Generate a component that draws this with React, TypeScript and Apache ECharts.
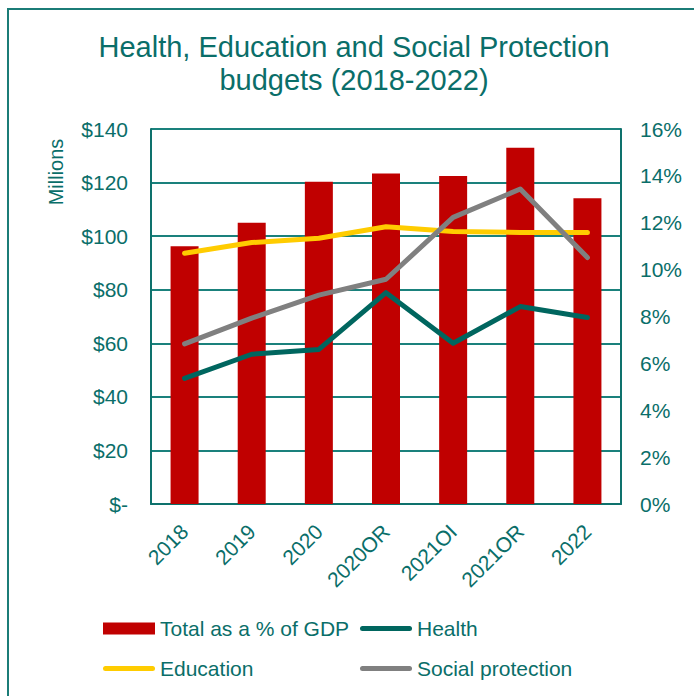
import React, { useEffect, useRef } from "react";
import * as echarts from "echarts";

const categories = ["2018", "2019", "2020", "2020OR", "2021OI", "2021OR", "2022"];
const totalPctGdp = [11.0, 12.0, 13.75, 14.1, 14.0, 15.2, 13.05];
const health = [46.9, 55.9, 57.7, 78.9, 60.0, 73.7, 69.6];
const education = [93.6, 97.6, 99.2, 103.5, 101.7, 101.4, 101.4];
const socialProtection = [59.8, 69.4, 78.0, 83.9, 107.0, 117.6, 92.0];
const titleLines = ["Health, Education and Social Protection", "budgets (2018-2022)"];

const TEAL = "#0A6E69";
const FONT = "'Liberation Sans', Arial, sans-serif";
const STADIUM = "path://M2.5,0 H49.5 A2.5,2.5 0 0 1 49.5,5 H2.5 A2.5,2.5 0 0 1 2.5,0 Z";

const legendBase = {
  orient: "horizontal",
  padding: 0,
  itemWidth: 52,
  textStyle: { color: TEAL, fontSize: 21, fontFamily: FONT, lineHeight: 20 },
};

export default function App() {
  const ref = useRef<HTMLDivElement>(null);
  useEffect(() => {
    document.body.style.margin = "0";
    const chart = echarts.init(ref.current!, null, { renderer: "svg" });
    chart.setOption({
      animation: false,
      backgroundColor: "#ffffff",
      textStyle: { fontFamily: FONT },
      graphic: [
        { type: "line", shape: { x1: 7, y1: 9, x2: 700, y2: 9 }, style: { stroke: "#1B7C77", lineWidth: 2 } },
        { type: "line", shape: { x1: 8, y1: 8, x2: 8, y2: 700 }, style: { stroke: "#1B7C77", lineWidth: 2 } },
        {
          type: "text", x: 354, y: 47,
          style: { text: titleLines[0], fill: TEAL, font: `29px ${FONT}`, textAlign: "center", textVerticalAlign: "middle" },
        },
        {
          type: "text", x: 354, y: 80,
          style: { text: titleLines[1], fill: TEAL, font: `29px ${FONT}`, textAlign: "center", textVerticalAlign: "middle" },
        },
        {
          type: "text", x: 56, y: 172, rotation: Math.PI / 2,
          style: { text: "Millions", fill: TEAL, font: `20px ${FONT}`, textAlign: "center", textVerticalAlign: "middle" },
        },
      ],
      grid: { left: 151, right: 73, top: 129, bottom: 192 },
      legend: [
        { ...legendBase, data: ["Total as a % of GDP"], left: 103, top: 618, itemHeight: 12, icon: "rect" },
        { ...legendBase, data: [{ name: "Health", icon: STADIUM }], left: 360, top: 618, itemHeight: 5 },
        { ...legendBase, data: [{ name: "Education", icon: STADIUM }], left: 103, top: 658, itemHeight: 5 },
        { ...legendBase, data: [{ name: "Social protection", icon: STADIUM }], left: 360, top: 658, itemHeight: 5 },
      ],
      xAxis: {
        type: "category",
        data: categories,
        axisLine: { lineStyle: { color: "#0E716C", width: 2 } },
        axisTick: { show: false },
        axisLabel: { rotate: 45, color: TEAL, fontSize: 21, fontFamily: FONT, margin: 24, interval: 0 },
      },
      yAxis: [
        {
          type: "value", min: 0, max: 140, interval: 20,
          axisLine: { show: true, lineStyle: { color: "#0E716C", width: 2 } },
          axisTick: { show: false },
          splitLine: { lineStyle: { color: "#1A817C", width: 2 } },
          axisLabel: {
            color: TEAL, fontSize: 21, fontFamily: FONT, margin: 23,
            formatter: (v: number) => (v === 0 ? "$-" : "$" + v),
          },
        },
        {
          type: "value", min: 0, max: 16, interval: 2,
          axisLine: { show: true, lineStyle: { color: "#0E716C", width: 2 } },
          axisTick: { show: false },
          splitLine: { show: false },
          axisLabel: { color: TEAL, fontSize: 21, fontFamily: FONT, margin: 19, formatter: "{value}%" },
        },
      ],
      series: [
        {
          name: "Total as a % of GDP", type: "bar", yAxisIndex: 1, data: totalPctGdp,
          barWidth: 28, itemStyle: { color: "#C00000" },
        },
        {
          name: "Health", type: "line", yAxisIndex: 0, data: health, symbol: "none",
          lineStyle: { color: "#00665F", width: 5, cap: "round", join: "round" }, itemStyle: { color: "#00665F" },
        },
        {
          name: "Education", type: "line", yAxisIndex: 0, data: education, symbol: "none",
          lineStyle: { color: "#FFCC00", width: 5, cap: "round", join: "round" }, itemStyle: { color: "#FFCC00" },
        },
        {
          name: "Social protection", type: "line", yAxisIndex: 0, data: socialProtection, symbol: "none",
          lineStyle: { color: "#808080", width: 5, cap: "round", join: "round" }, itemStyle: { color: "#808080" },
        },
      ],
    });
    return () => chart.dispose();
  }, []);
  return <div ref={ref} style={{ width: 694, height: 696 }} />;
}
